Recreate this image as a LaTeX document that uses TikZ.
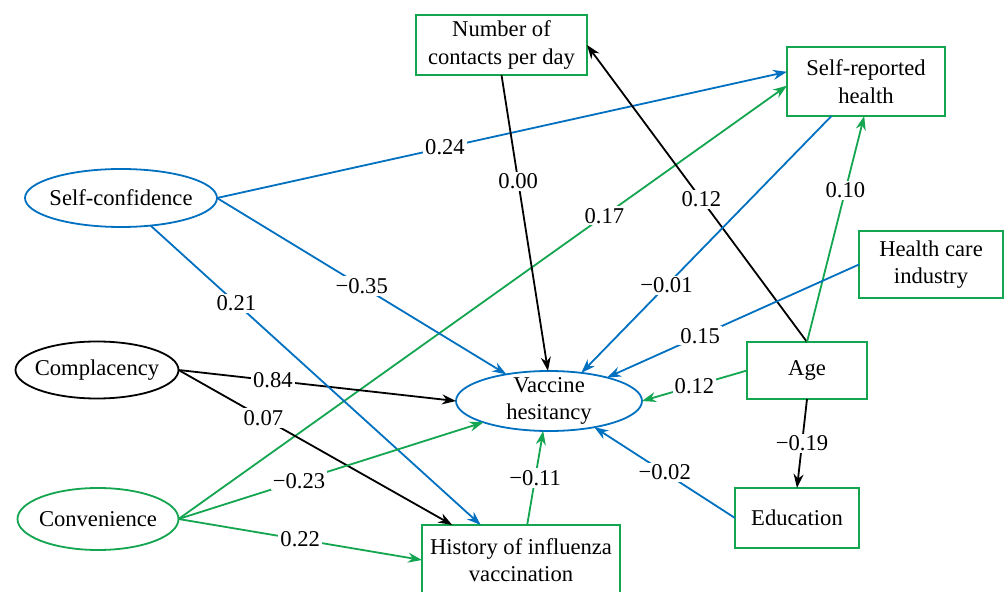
\documentclass[tikz,border=0pt]{standalone}
\usepackage{fontspec}
\setmainfont{Liberation Serif}
\usetikzlibrary{arrows.meta,shapes.geometric}
\definecolor{sblue}{RGB}{0,112,192}
\definecolor{sgreen}{RGB}{20,165,80}
\begin{document}
\begin{tikzpicture}[x=0.5pt,y=-0.5pt,
  font=\fontsize{11.3pt}{13.8pt}\selectfont,
  box/.style={draw=sgreen, line width=0.9pt, rectangle, align=center, inner sep=0pt, outer sep=0pt},
  oval/.style={ellipse, line width=0.9pt, align=center, inner sep=-10pt, outer sep=0pt},
  lbl/.style={fill=white, inner sep=1pt, text=black},
  conn/.style={line width=0.9pt, -{Stealth[length=7pt,width=5pt]}}]
\fill[white] (0,0) rectangle (1005,592);
\useasboundingbox (0,0) rectangle (1005,592);
% nodes
\node[oval, draw=sblue, minimum width=96pt, minimum height=29pt] (sc) at (121,198) {Self-confidence};
\node[oval, draw=black, minimum width=81.5pt, minimum height=28.5pt] (cp) at (97,370) {Complacency};
\node[oval, draw=sgreen, minimum width=80.5pt, minimum height=31pt] (cv) at (98,519) {Convenience};
\node[oval, draw=sblue, minimum width=93pt, minimum height=30pt] (vh) at (549,401) {Vaccine\\hesitancy};
\node[box, minimum width=85.5pt, minimum height=30pt] (nb) at (501.5,45) {Number of\\contacts per day};
\node[box, minimum width=79pt, minimum height=34.5pt] (sr) at (866,81.5) {Self-reported\\health};
\node[box, minimum width=72pt, minimum height=33.5pt] (hc) at (931,264.5) {Health care\\industry};
\node[box, minimum width=60pt, minimum height=28.5pt] (ag) at (807,370.5) {Age};
\node[box, minimum width=62pt, minimum height=30pt] (ed) at (797,518) {Education};
\node[box, minimum width=99pt, minimum height=35pt] (hi) at (521,560) {History of influenza\\vaccination};
% connectors
\draw[conn, sblue] (sc.east) -- node[lbl, pos=0.40]{0.24} (sr.173.1);
\draw[conn, sgreen] (cv.east) -- node[lbl, pos=0.70]{0.17} (sr.183.3);
\draw[conn, black] (nb.south) -- node[lbl, pos=0.36]{0.00} (vh.92);
\draw[conn, black] (ag.north) -- node[lbl, pos=0.48]{0.12} (nb.east);
\draw[conn, sgreen] (ag.north) -- node[lbl, pos=0.67]{0.10} (sr.267);
\draw[conn, sblue] (sr.225.4) -- node[lbl, pos=0.66]{−0.01} (vh.41);
\draw[conn, sblue] (hc.west) -- node[lbl, pos=0.63]{0.15} (vh.22);
\draw[conn, sgreen] (ag.west) -- node[lbl, pos=0.5]{0.12} (vh.east);
\draw[conn, sblue] (ed.west) -- node[lbl, pos=0.5]{−0.02} (vh.-30.4);
\draw[conn, black] (ag.south) -- node[lbl, pos=0.5]{−0.19} (ed.north);
\draw[conn, sgreen] (hi.80.3) -- node[lbl, pos=0.5]{−0.11} (vh.259);
\draw[conn, black] (cp.east) -- node[lbl, pos=0.34]{0.84} (vh.west);
\draw[conn, black] (cp.east) -- node[lbl, pos=0.31]{0.07} (hi.153.1);
\draw[conn, sblue] (sc.east) -- node[lbl, pos=0.5]{−0.35} (vh.148.7);
\draw[conn, sblue] (sc.-43) -- node[lbl, pos=0.26]{0.21} (hi.139.5);
\draw[conn, sgreen] (cv.east) -- node[lbl, pos=0.395]{−0.23} (vh.198.2);
\draw[conn, sgreen] (cv.east) -- node[lbl, pos=0.5]{0.22} (hi.west);
\end{tikzpicture}
\end{document}
